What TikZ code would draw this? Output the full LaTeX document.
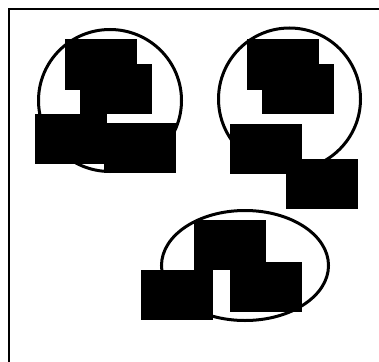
\documentclass[tikz,border=0pt]{standalone}
\usepackage{tikz}
\usetikzlibrary{shapes.geometric}

\tikzset{
  blob/.style={fill=black,inner sep=0pt,
    minimum width=72pt,minimum height=50pt},
  ring/.style={ellipse,draw=black,line width=3pt,inner sep=0pt}
}

\begin{document}
\begin{tikzpicture}[x=1pt,y=-1pt]
\useasboundingbox (0,0) rectangle (379,361);
\fill[white] (0,0) rectangle (379,361);
\draw[line width=2pt] (8.5,400) -- (8.5,9.5) -- (400,9.5);
% Groupe gauche
\node[ring,minimum width=143pt,minimum height=142pt] (ringA) at (110,100.5) {};
\node[blob] (a1) at (101,64.5) {};
\node[blob] (a2) at (116,89) {};
\node[blob] (a3) at (70.5,139) {};
\node[blob] (a4) at (139.5,148) {};
% Groupe droit
\node[ring,minimum width=142pt,minimum height=142pt] (ringB) at (289.5,99) {};
\node[blob] (b1) at (283,64.5) {};
\node[blob] (b2) at (298,89) {};
\node[blob] (b3) at (265.5,148.5) {};
\node[blob] (b4) at (321.5,183.5) {};
% Groupe bas
\node[ring,minimum width=167pt,minimum height=110pt] (ringC) at (245,265.5) {};
\node[blob] (c1) at (229.5,245) {};
\node[blob] (c2) at (265.5,287) {};
\node[blob] (c3) at (177,295) {};
\end{tikzpicture}
\end{document}
